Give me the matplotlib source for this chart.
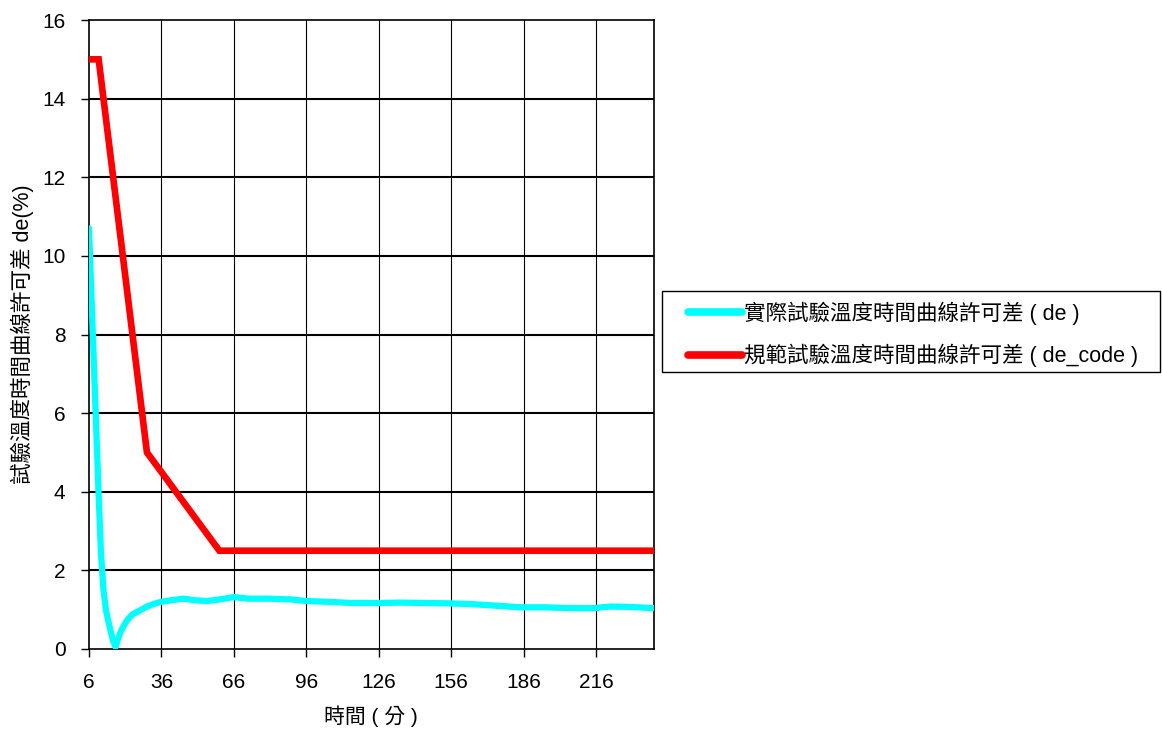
import matplotlib
matplotlib.use("Agg")
import matplotlib.pyplot as plt
from matplotlib.patches import Rectangle

plt.rcParams['font.family'] = ['Liberation Sans', 'Noto Sans CJK TC', 'DejaVu Sans']

# Actual tolerance (de)
t_actual = [6, 7, 8, 9, 10, 11, 12, 13, 14, 15, 16, 17, 18, 19, 20, 22, 24, 27, 30, 33, 36,
            40, 45, 50, 55, 60, 66, 72, 80, 90, 96, 105, 115, 126, 135, 145, 156, 165, 175,
            185, 195, 205, 215, 222, 230, 240]
de_actual = [10.7, 9.0, 7.3, 5.6, 3.9, 2.4, 1.5, 1.0, 0.7, 0.45, 0.2, 0.05, 0.25, 0.42, 0.55,
             0.75, 0.88, 0.98, 1.08, 1.15, 1.2, 1.24, 1.28, 1.24, 1.22, 1.26, 1.32, 1.28, 1.28,
             1.26, 1.22, 1.2, 1.17, 1.17, 1.18, 1.17, 1.16, 1.14, 1.1, 1.06, 1.06, 1.04, 1.04,
             1.08, 1.07, 1.04]

# Code tolerance (de_code)
t_code = [6, 10, 30, 60, 240]
de_code = [15, 15, 5, 2.5, 2.5]

xticks = [6, 36, 66, 96, 126, 156, 186, 216]
yticks = [0, 2, 4, 6, 8, 10, 12, 14, 16]

label_actual = '實際試驗溫度時間曲線許可差 ( de )'
label_code = '規範試驗溫度時間曲線許可差 ( de_code )'
xlabel = '時間 ( 分 )'
ylabel = '試驗溫度時間曲線許可差 de(%)'

W, H = 1162, 729
fig = plt.figure(figsize=(W/100, H/100), dpi=100)
ax = fig.add_axes([89/W, 1-649/H, (654-89)/W, (649-20)/H])

ax.plot(t_actual, de_actual, color='#00FFFF', lw=4.5, label=label_actual,
        solid_joinstyle='round', solid_capstyle='round', zorder=3)
ax.plot(t_code, de_code, color='#FF0000', lw=4.8, label=label_code,
        solid_joinstyle='miter', solid_capstyle='butt', zorder=4)

ax.set_xlim(6, 240)
ax.set_ylim(0, 16)
ax.set_xticks(xticks)
ax.set_yticks(yticks)
ax.tick_params(axis='both', labelsize=15, direction='out', length=6, width=1, color='black')
ax.tick_params(axis='x', pad=11)
ax.tick_params(axis='y', pad=11)

for y in yticks[1:-1]:
    ax.axhline(y, color='black', lw=1.5, zorder=1)
for x in xticks[1:]:
    ax.axvline(x, color='black', lw=0.8, zorder=1)

for s in ax.spines.values():
    s.set_color('black')
    s.set_linewidth(1.2)

fig.text(371/W, 1-716/H, xlabel, fontsize=15, ha='center', va='center')
fig.text(22/W, 1-334.5/H, ylabel, fontsize=15.5, ha='center', va='center', rotation=90)

# legend frame
fig.patches.append(Rectangle((662/W, 1-372/H), (1160-662)/W, (372-291)/H,
                             transform=fig.transFigure, fill=False, edgecolor='black',
                             lw=1.0, figure=fig))

leg = fig.legend(loc='center left', bbox_to_anchor=(688/W, 1-334.5/H),
                 fontsize=15.5, frameon=False,
                 handlelength=2.5, handletextpad=0.1, borderpad=0, labelspacing=0.88,
                 borderaxespad=0)
for h in leg.get_lines():
    h.set_linewidth(5.5)
    h.set_solid_capstyle('round')

fig.savefig('out.png', dpi=100)
